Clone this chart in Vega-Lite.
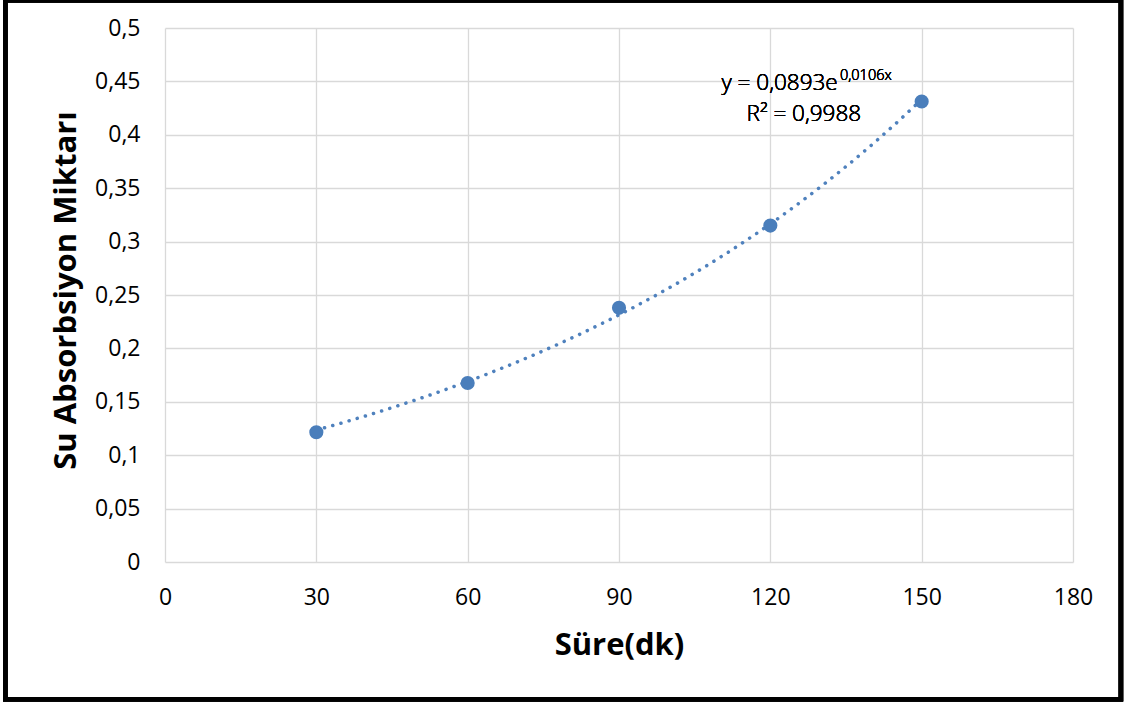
{
  "$schema": "https://vega.github.io/schema/vega-lite/v6.json",
  "width": 908,
  "height": 534,
  "autosize": "none",
  "padding": {"left": 165, "top": 28, "right": 57, "bottom": 142},
  "background": "white",
  "config": {"view": {"stroke": null}, "font": "Open Sans", "text": {"fontWeight": "normal"}},
  "data": {"values": [
    {"sure": 30, "su": 0.1215},
    {"sure": 60, "su": 0.1676},
    {"sure": 90, "su": 0.238},
    {"sure": 120, "su": 0.315},
    {"sure": 150, "su": 0.4312}
  ]},
  "layer": [
    {
      "mark": {"type": "point", "opacity": 0},
      "encoding": {
        "x": {"field": "sure", "type": "quantitative",
          "scale": {"domain": [0, 180], "nice": false, "zero": false},
          "axis": {"values": [0, 30, 60, 90, 120, 150, 180], "grid": true, "gridColor": "#d9d9d9", "gridWidth": 1.3,
            "domain": false, "ticks": false, "labelPadding": 24, "labelFontSize": 23, "labelColor": "#000000", "labelFont": "Open Sans", "labelFontWeight": "normal",
            "title": "Süre(dk)", "titleFontSize": 31, "titleFontWeight": "bold", "titleColor": "#000000", "titleFont": "Open Sans",
            "titleBaseline": "alphabetic", "titleX": 454, "titleY": 92.7, "labelFlush": false}},
        "y": {"field": "su", "type": "quantitative",
          "scale": {"domain": [0, 0.5], "nice": false, "zero": false},
          "axis": {"values": [0, 0.05, 0.1, 0.15, 0.2, 0.25, 0.3, 0.35, 0.4, 0.45, 0.5], "grid": true, "gridColor": "#d9d9d9", "gridWidth": 1.3,
            "domain": false, "ticks": false, "labelPadding": 25, "labelFontSize": 23, "labelColor": "#000000", "labelFont": "Open Sans", "labelFontWeight": "normal",
            "labelExpr": "replace(format(datum.value, '.2~f'), '.', ',')", "labelFlush": false,
            "title": "Su Absorbsiyon Miktarı", "titleFontSize": 31, "titleFontWeight": "bold", "titleColor": "#000000", "titleFont": "Open Sans",
            "titleAngle": 270, "titleBaseline": "alphabetic", "titleX": -90, "titleY": 262}}
      }
    },
    {
      "transform": [{"regression": "su", "on": "sure", "method": "exp"}],
      "mark": {"type": "line", "color": "#4f81bd", "strokeWidth": 3.5, "strokeDash": [0.1, 8.4], "strokeCap": "round"},
      "encoding": {
        "x": {"field": "sure", "type": "quantitative"},
        "y": {"field": "su", "type": "quantitative"}
      }
    },
    {
      "mark": {"type": "circle", "color": "#4a7ebb", "opacity": 1, "size": 200},
      "encoding": {
        "x": {"field": "sure", "type": "quantitative"},
        "y": {"field": "su", "type": "quantitative"}
      }
    },
    {
      "mark": {"type": "text", "align": "right", "baseline": "alphabetic", "fontSize": 22.5, "fontWeight": 300, "fill": "#000000", "font": "Open Sans", "text": "y = 0,0893e"},
      "encoding": {"x": {"datum": 133.36, "type": "quantitative"}, "y": {"datum": 0.4416, "type": "quantitative"}}
    },
    {
      "mark": {"type": "text", "align": "left", "baseline": "alphabetic", "fontSize": 14.5, "fontWeight": 300, "fill": "#000000", "font": "Open Sans", "text": "0,0106x"},
      "encoding": {"x": {"datum": 133.8, "type": "quantitative"}, "y": {"datum": 0.4509, "type": "quantitative"}}
    },
    {
      "mark": {"type": "text", "align": "left", "baseline": "alphabetic", "fontSize": 22.5, "fontWeight": 300, "fill": "#000000", "font": "Open Sans", "text": "R² = 0,9988"},
      "encoding": {"x": {"datum": 115.3, "type": "quantitative"}, "y": {"datum": 0.4125, "type": "quantitative"}}
    },
    {
      "mark": {"type": "rect", "fill": null, "stroke": "#000000", "strokeWidth": 4.5, "clip": false},
      "encoding": {
        "x": {"datum": -31.66, "type": "quantitative"},
        "x2": {"datum": 189.5},
        "y": {"datum": 0.526, "type": "quantitative"},
        "y2": {"datum": -0.1285}
      }
    }
  ]
}
